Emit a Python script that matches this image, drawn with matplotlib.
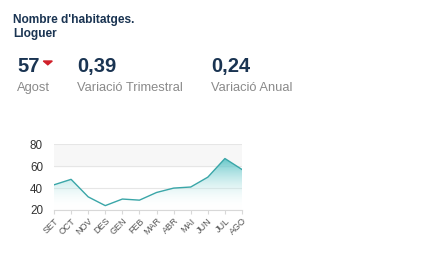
import numpy as np
import matplotlib.pyplot as plt
from matplotlib.colors import LinearSegmentedColormap

plt.rcParams['font.family'] = ['Liberation Sans', 'DejaVu Sans']

# Dades mensuals
mesos = ['SET', 'OCT', 'NOV', 'DES', 'GEN', 'FEB', 'MAR', 'ABR', 'MAI', 'JUN', 'JUL', 'AGO']
habitatges = [43, 48, 32, 24, 30, 29, 36, 40, 41, 50, 67, 57]
y_ticks = [20, 40, 60, 80]

titol = ["Nombre d'habitatges.", "Lloguer"]
indicadors = ['57', '0,39', '0,24']
etiquetes = ['Agost', 'Variació Trimestral', 'Variació Anual']

navy = '#1a3452'
gris = '#8a8a8a'
teal = '#3aa6a8'

fig = plt.figure(figsize=(4.37, 2.78), dpi=100)
W, H = 437, 278

def fx(px):
    return px / W

def fy(py):
    return 1 - py / H

# Capçalera
for linia, base in zip(titol, [22.7, 36.5]):
    fig.text(fx(13), fy(base), linia, fontsize=8.6, fontweight='bold',
             color=navy, va='baseline')

pos_x = [17, 77, 211]
for x, val, lab in zip(pos_x, indicadors, etiquetes):
    fig.text(fx(x), fy(72.3), val, fontsize=14.5, fontweight='bold', color=navy, va='baseline')
    fig.text(fx(x), fy(91), lab, fontsize=9.3, color=gris, va='baseline')

# Triangle vermell de baixada
tri = plt.Polygon([[fx(43.3), fy(61)], [fx(52.3), fy(61)], [fx(47.8), fy(64.8)]],
                  closed=True, color='#d0202a', transform=fig.transFigure)
fig.patches.append(tri)

# Gràfic
ax = fig.add_axes([fx(54), fy(210), fx(242) - fx(54), (210 - 144.3) / H])
x = np.arange(len(mesos))
ax.set_xlim(0, len(mesos) - 1)
ax.set_ylim(20, 80)

ax.axhspan(60, 80, color='#f7f7f7', zorder=0)
for t in y_ticks:
    ax.axhline(t, color='#e6e6e6', lw=0.8, zorder=1)

# Degradat sota la línia, del màxim cap a la base
cmap = LinearSegmentedColormap.from_list(
    'grad', [(1, 1, 1, 0), (0.33, 0.76, 0.77, 0.9)])
grad = np.linspace(0, 1, 256).reshape(-1, 1)
img = ax.imshow(grad, extent=[0, len(mesos) - 1, 21, max(habitatges)], origin='lower',
                aspect='auto', cmap=cmap, zorder=2)
poly = ax.fill_between(x, habitatges, 20, color='none', lw=0)
clip = poly.get_paths()[0]
img.set_clip_path(clip, transform=ax.transData)
ax.set_ylim(20, 80)

ax.plot(x, habitatges, color=teal, lw=1.0, zorder=3)

for s in ['top', 'right', 'left']:
    ax.spines[s].set_visible(False)
ax.spines['bottom'].set_color('#d8d8d8')
ax.spines['bottom'].set_linewidth(0.8)

ax.set_yticks(y_ticks)
ax.set_yticklabels([str(t) for t in y_ticks], fontsize=8.4, color='#333333')
ax.tick_params(axis='y', length=0, pad=8)
ax.set_xticks(x)
ax.set_xticklabels(mesos, rotation=45, ha='right', rotation_mode='anchor',
                   fontsize=6.5, color='#555555')
ax.tick_params(axis='x', length=3, color='#d8d8d8', pad=1.5)

fig.savefig('out.png', dpi=100)
